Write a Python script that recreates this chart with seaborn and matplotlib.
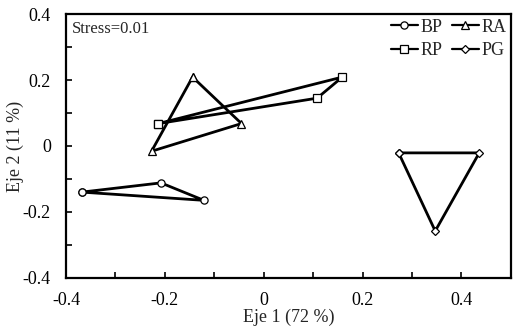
import numpy as np
import pandas as pd
import matplotlib
matplotlib.use('Agg')
import matplotlib.pyplot as plt
import seaborn as sns
from matplotlib.ticker import MultipleLocator

# coordenadas NMDS
grupos = ['BP', 'RA', 'RP', 'PG']
marcadores = ['o', '^', 's', 'D']
bp_x = [-0.368, -0.208, -0.121]
bp_y = [-0.140, -0.112, -0.165]
ra_x = [-0.144, -0.045, -0.227]
ra_y = [0.209, 0.068, -0.016]
rp_x = [-0.213, 0.159, 0.108]
rp_y = [0.068, 0.209, 0.145]
pg_x = [0.273, 0.436, 0.347]
pg_y = [-0.021, -0.021, -0.258]

xs = [bp_x, ra_x, rp_x, pg_x]
ys = [bp_y, ra_y, rp_y, pg_y]
ticks = [-0.4, -0.2, 0, 0.2, 0.4]
tick_labels = ['-0.4', '-0.2', '0', '0.2', '0.4']

sns.set_theme(style='ticks')
plt.rcParams['font.family'] = ['Liberation Serif', 'DejaVu Serif']

fig, ax = plt.subplots(figsize=(5.16, 3.28), dpi=100)

for g, m, x, y in zip(grupos, marcadores, xs, ys):
    # cerrar el poligono
    df = pd.DataFrame({'x': x + x[:1], 'y': y + y[:1]})
    ms = 4.2 if m == 'D' else 5.2
    sns.lineplot(data=df, x='x', y='y', sort=False, estimator=None, ax=ax,
                 color='black', linewidth=2, marker=m, markersize=ms,
                 markerfacecolor='white', markeredgecolor='black', markeredgewidth=0.9,
                 label=g)

h, l = ax.get_legend_handles_labels()
d = dict(zip(l, h))
orden = ['BP', 'RP', 'RA', 'PG']
leg = ax.legend([d[k] for k in orden], orden, ncol=2, loc='upper right', frameon=False,
                handlelength=1.5, handletextpad=0.15, columnspacing=0.5, labelspacing=0.35,
                borderaxespad=0.05, borderpad=0.2, fontsize=13)
for lh in leg.legend_handles:
    lh.set_linewidth(1.6)

ax.text(0.013, 0.975, 'Stress=0.01', transform=ax.transAxes, ha='left', va='top', fontsize=12)

ax.set_xlim(-0.4, 0.5)
ax.set_ylim(-0.4, 0.4)
ax.xaxis.set_minor_locator(MultipleLocator(0.1))
ax.yaxis.set_minor_locator(MultipleLocator(0.1))
ax.set_xticks(ticks)
ax.set_xticklabels(tick_labels)
ax.set_yticks(ticks)
ax.set_yticklabels(tick_labels)
ax.tick_params(which='both', direction='in', length=4.5, width=1.2, colors='black',
               labelsize=13)
ax.tick_params(axis='x', pad=10)
ax.tick_params(axis='y', pad=11)
for s in ax.spines.values():
    s.set_linewidth(1.6)
    s.set_color('black')
ax.set_xlabel('Eje 1 (72 %)', fontsize=13, labelpad=0)
ax.set_ylabel('Eje 2 (11 %)', fontsize=13, labelpad=-1)

fig.subplots_adjust(left=0.128, right=0.99, top=0.957, bottom=0.153)
fig.savefig('out.png', dpi=100)
